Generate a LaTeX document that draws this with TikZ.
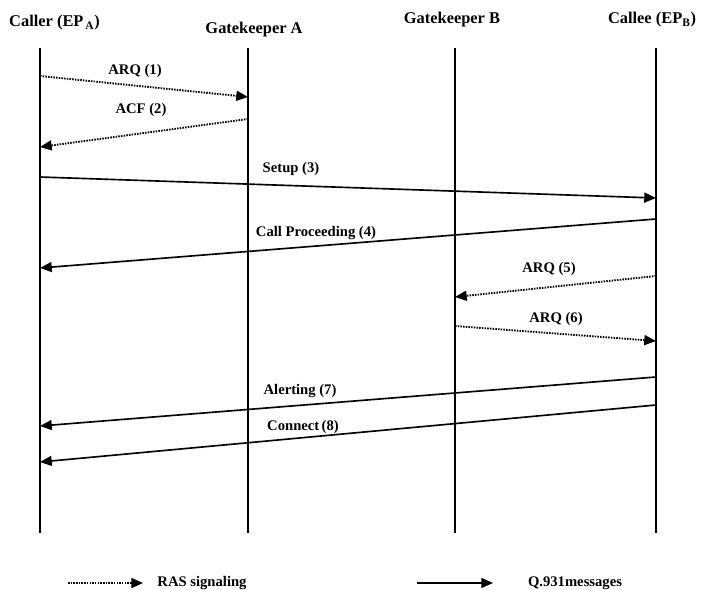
\documentclass[tikz,border=0pt]{standalone}
\usepackage{fontspec}
\setmainfont{Liberation Serif}
\usepackage{tikz}
\usetikzlibrary{arrows.meta}

\begin{document}
\begin{tikzpicture}[
  x=0.03cm, y=-0.03cm,
  head/.style={font=\fontsize{14}{16}\selectfont\bfseries, inner sep=0pt},
  msg/.style={font=\fontsize{12.5}{14}\selectfont\bfseries, inner sep=0pt},
  lifeline/.style={line width=1.7pt},
  qmsg/.style={-{Triangle[length=10pt,width=8.5pt]}, line width=1.4pt},
  ras/.style={-{Triangle[length=10pt,width=8.5pt]}, line width=1.6pt, dash pattern=on 1.3pt off 1pt}
]
\useasboundingbox (0,0) rectangle (701,590);

% Participants
\node[head, anchor=west] (caller) at (9,23) {Caller (EP\textsubscript{\,A})};
\node[head] (gka) at (254,30) {Gatekeeper A};
\node[head] (gkb) at (452,20) {Gatekeeper B};
\node[head] (callee) at (652,20) {Callee (EP\textsubscript{B})};

% Vertical Lifelines
\coordinate (callerTop) at (40,48);  \coordinate (callerBot) at (40,533);
\coordinate (gkaTop) at (248,48);    \coordinate (gkaBot) at (248,533);
\coordinate (gkbTop) at (455,48);    \coordinate (gkbBot) at (455,533);
\coordinate (calleeTop) at (656,48); \coordinate (calleeBot) at (656,533);
\draw[lifeline] (callerTop) -- (callerBot);
\draw[lifeline] (gkaTop) -- (gkaBot);
\draw[lifeline] (gkbTop) -- (gkbBot);
\draw[lifeline] (calleeTop) -- (calleeBot);

% ARQ (1)
\coordinate (arq1s) at (40,76); \coordinate (arq1e) at (248,97);
\draw[ras] (arq1s) -- (arq1e);
\node[msg] (arq1) at (135,71) {ARQ (1)};

% ACF (2)
\coordinate (acf2s) at (248,119); \coordinate (acf2e) at (40,147);
\draw[ras] (acf2s) -- (acf2e);
\node[msg] (acf2) at (141,110) {ACF (2)};

% Setup (3)
\coordinate (setup3s) at (40,177); \coordinate (setup3e) at (656,198);
\draw[qmsg] (setup3s) -- (setup3e);
\node[msg] (setup3) at (291,169) {Setup (3)};

% Call Proceeding (4)
\coordinate (proc4s) at (656,219); \coordinate (proc4e) at (40,268);
\draw[qmsg] (proc4s) -- (proc4e);
\node[msg] (proc4) at (316,233) {Call Proceeding (4)};

% ARQ (5)
\coordinate (arq5s) at (656,276); \coordinate (arq5e) at (455,297);
\draw[ras] (arq5s) -- (arq5e);
\node[msg] (arq5) at (549,269) {ARQ (5)};

% ARQ (6)
\coordinate (arq6s) at (455,326); \coordinate (arq6e) at (656,341);
\draw[ras] (arq6s) -- (arq6e);
\node[msg] (arq6) at (556,319) {ARQ (6)};

% Alerting (7)
\coordinate (alert7s) at (656,377); \coordinate (alert7e) at (40,426);
\draw[qmsg] (alert7s) -- (alert7e);
\node[msg] (alert7) at (300,391) {Alerting (7)};

% Connect (8)
\coordinate (conn8s) at (656,405); \coordinate (conn8e) at (40,462);
\draw[qmsg] (conn8s) -- (conn8e);
\node[msg] (conn8) at (303,427) {Connect\,(8)};

% Legend
\coordinate (rasA) at (68,583); \coordinate (rasB) at (143,583);
\draw[ras] (rasA) -- (rasB);
\node[msg] (raslbl) at (202,583) {RAS signaling};
\coordinate (qA) at (417,583); \coordinate (qB) at (493,583);
\draw[qmsg] (qA) -- (qB);
\node[msg] (qlbl) at (575,583) {Q.931messages};

\end{tikzpicture}
\end{document}
